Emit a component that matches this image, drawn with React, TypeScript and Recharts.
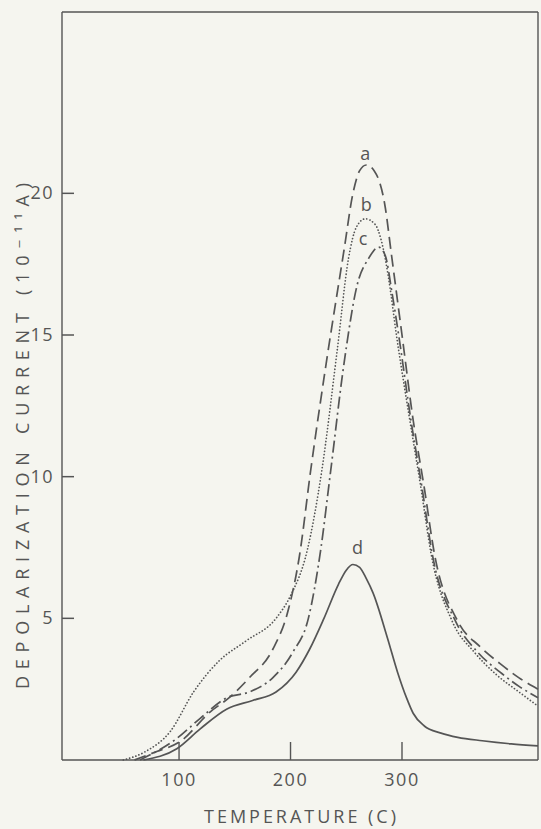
import { LineChart, Line, XAxis, YAxis, ReferenceDot } from "recharts";

// curve a (dashed)
const tempA = [60, 80, 101, 128, 145, 163, 184, 198, 208, 218, 232, 248, 256, 262, 268, 275, 285, 290, 300, 310, 320, 329, 350, 370, 388, 405, 422];
const currentA = [0, 0.3, 0.65, 1.7, 2.2, 2.9, 3.9, 5.3, 7.2, 10.2, 14, 18.0, 20.0, 20.8, 21.0, 20.8, 19.5, 18.0, 15, 12, 9.6, 7.3, 4.9, 4.0, 3.4, 2.9, 2.5];

// curve b (dotted)
const tempB = [50, 70, 92, 113, 136, 160, 187, 200, 215, 228, 242, 252, 259, 267, 276, 281, 288, 295, 307, 317, 326, 345, 365, 385, 405, 422];
const currentB = [0, 0.3, 1.0, 2.4, 3.5, 4.2, 5.0, 5.8, 7.4, 10.2, 14.5, 17.7, 18.8, 19.1, 18.9, 18.4, 17, 15, 12, 9.6, 7.3, 4.9, 3.8, 3.0, 2.4, 1.9];

// curve c (dash-dot)
const tempC = [65, 98, 119, 143, 163, 184, 202, 216, 227, 236, 248, 260, 270, 279, 285, 291, 297, 308, 318, 327, 348, 368, 388, 405, 422];
const currentC = [0, 0.76, 1.47, 2.2, 2.4, 2.9, 3.8, 5.0, 7.4, 10.2, 14, 16.8, 17.7, 18.1, 17.8, 16.5, 15, 12, 9.6, 7.3, 4.9, 3.8, 3.1, 2.6, 2.2];

// curve d (solid)
const tempD = [68, 98, 119, 143, 166, 187, 205, 217, 230, 243, 250, 256, 262, 268, 274, 287, 296, 304, 310, 320, 335, 350, 372, 398, 422];
const currentD = [0, 0.4, 1.1, 1.8, 2.1, 2.4, 3.1, 3.9, 5.0, 6.2, 6.7, 6.9, 6.8, 6.4, 5.9, 4.3, 3.1, 2.2, 1.65, 1.2, 0.95, 0.8, 0.68, 0.57, 0.5];

const xTicks = [100, 200, 300];
const yTicks = [5, 10, 15, 20];
const xDomain = [-5, 422];
const yDomain = [0, 26.4];
const yTickLen = 12; // inward tick length, in degrees

const curveLabels = [
  { name: "a", temp: 267, current: 21.4 },
  { name: "b", temp: 268, current: 19.6 },
  { name: "c", temp: 265, current: 18.4 },
  { name: "d", temp: 260, current: 7.5 },
];

const INK = "#555";
const FONT = "'Open Sans', 'DejaVu Sans', sans-serif";

const zip = (t: number[], v: number[]) => t.map((x, i) => ({ temp: x, current: v[i] }));

const series = [
  { key: "a", data: zip(tempA, currentA), dash: "12 6", cap: "butt" as const },
  { key: "b", data: zip(tempB, currentB), dash: "0.1 3.2", cap: "round" as const },
  { key: "c", data: zip(tempC, currentC), dash: "12 4 2 4", cap: "butt" as const },
  { key: "d", data: zip(tempD, currentD), dash: undefined, cap: "butt" as const },
];

const tickFont = { fill: INK, fontSize: 18, fontFamily: FONT, letterSpacing: 1.5 };

// y tick: label left of the axis plus a short inward mark drawn from the label anchor
const YTick = (props: any) => {
  const { x, y, payload } = props;
  const axisX = x + 8; // tickMargin
  return (
    <g>
      <path d={`M${axisX},${y}h${yTickLen}`} stroke={INK} strokeWidth={1.5} fill="none" />
      <text x={x} y={y} dy={6} textAnchor="end" fill={INK} fontSize={18} fontFamily={FONT} letterSpacing={1.5}>
        {payload.value}
      </text>
    </g>
  );
};

export default function App() {
  return (
    <div style={{ position: "absolute", left: 0, top: 0, width: 541, height: 829, background: "#f5f5ef" }}>
      <LineChart width={541} height={829} margin={{ top: 11, right: 2, bottom: 0, left: 0 }}>
        <XAxis
          xAxisId="main"
          dataKey="temp"
          type="number"
          domain={xDomain}
          ticks={xTicks}
          allowDuplicatedCategory={false}
          height={69}
          tickSize={-18}
          tickMargin={31}
          tickLine={{ stroke: INK, strokeWidth: 1.4 }}
          tick={tickFont}
          stroke={INK}
          strokeWidth={1.4}
          label={(p: any) => {
            const vb = p.viewBox;
            return (
              <text x={vb.x + vb.width / 2} y={823} textAnchor="middle" fill={INK} fontSize={18} fontFamily={FONT} textLength={192} lengthAdjust="spacing">
                TEMPERATURE (C)
              </text>
            );
          }}
        />
        {/* top frame edge */}
        <XAxis xAxisId="top" orientation="top" type="number" domain={xDomain} ticks={xTicks} height={1} tick={false} tickLine={false} stroke={INK} strokeWidth={1.4} />
        <YAxis
          yAxisId="main"
          type="number"
          domain={yDomain}
          ticks={yTicks}
          width={62}
          tickSize={0}
          tickMargin={8}
          tickLine={false}
          tick={<YTick />}
          stroke={INK}
          strokeWidth={1.4}
          label={(p: any) => {
            const vb = p.viewBox;
            const cy = vb.y + vb.height / 2 + 50;
            return (
              <text x={22} y={cy} transform={`rotate(-90 22 ${cy})`} dy={7} textAnchor="middle" fill={INK} fontSize={18} fontFamily={FONT} textLength={506} lengthAdjust="spacing">
                DEPOLARIZATION  CURRENT (10⁻¹¹A)
              </text>
            );
          }}
        />
        {/* right frame edge */}
        <YAxis yAxisId="right" orientation="right" type="number" domain={yDomain} ticks={yTicks} width={1} tick={false} tickLine={false} stroke={INK} strokeWidth={1.4} />
        {series.map((s) => (
          <Line
            key={s.key}
            xAxisId="main"
            yAxisId="main"
            data={s.data}
            dataKey="current"
            type="monotone"
            stroke={INK}
            strokeWidth={1.7}
            strokeDasharray={s.dash}
            strokeLinecap={s.cap}
            dot={false}
            activeDot={false}
            isAnimationActive={false}
          />
        ))}
        {curveLabels.map((l) => (
          <ReferenceDot
            key={l.name}
            xAxisId="main"
            yAxisId="main"
            x={l.temp}
            y={l.current}
            r={0}
            stroke="none"
            fill="none"
            label={{ value: l.name, position: "center", fill: INK, fontSize: 18, fontFamily: FONT }}
          />
        ))}
      </LineChart>
    </div>
  );
}
